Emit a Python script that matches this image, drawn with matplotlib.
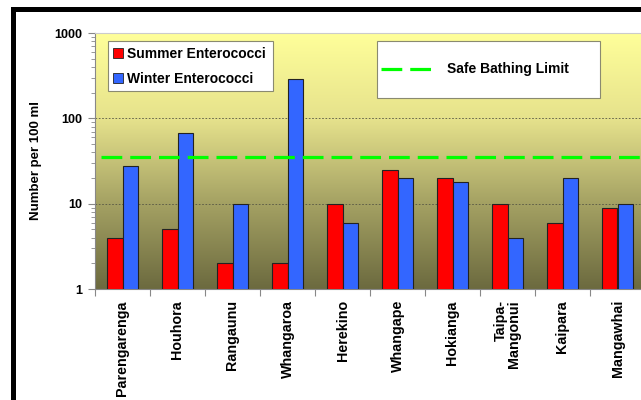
import numpy as np
import matplotlib
matplotlib.use("Agg")
import matplotlib.pyplot as plt
from matplotlib.colors import LinearSegmentedColormap
from matplotlib.patches import Rectangle, Patch
from matplotlib.lines import Line2D
import matplotlib.ticker as ticker

plt.rcParams['font.family'] = ['Liberation Sans', 'DejaVu Sans']
plt.rcParams['font.weight'] = 'bold'
plt.rcParams['axes.labelweight'] = 'bold'

sites = ["Parengarenga", "Houhora", "Rangaunu", "Whangaroa", "Herekino",
         "Whangape", "Hokianga", "Taipa-\nMangonui", "Kaipara", "Mangawhai"]
summer = [4, 5, 2, 2, 10, 25, 20, 10, 6, 9]
winter = [28, 68, 10, 290, 6, 20, 18, 4, 20, 10]
safe_limit = 35

W, H = 641, 400
fig = plt.figure(figsize=(W / 100, H / 100), dpi=100)

def px(x0, y0, x1, y1):
    # pixel box (top-left origin) -> figure fraction rect
    return [x0 / W, 1 - y1 / H, (x1 - x0) / W, (y1 - y0) / H]

ax = fig.add_axes(px(95, 33, 645, 289))

# gradient background
cmap = LinearSegmentedColormap.from_list("bg", ["#FFFF9A", "#E6E28C", "#A4A163", "#6C6A3F"])
grad = np.linspace(0, 1, 256).reshape(-1, 1)
ax.imshow(grad, cmap=cmap, aspect="auto", extent=[0, 1, 0, 1],
          transform=ax.transAxes, zorder=0)

x = np.arange(len(sites))
bw = 0.28
ax.bar(x - bw / 2, summer, width=bw, color="#FF0000", edgecolor="#222222",
       linewidth=0.8, zorder=3, label="Summer Enterococci")
ax.bar(x + bw / 2, winter, width=bw, color="#3366FF", edgecolor="#222222",
       linewidth=0.8, zorder=3, label="Winter Enterococci")

ax.set_yscale("log")
ax.set_ylim(1, 1000)
ax.set_xlim(-0.5, len(sites) - 0.5)

dash = (0, (6.5, 2.5))
ax.axhline(safe_limit, xmin=0.01, color="#00FF00", lw=2.3,
           linestyle=dash, zorder=4)

for v in [10, 100]:
    ax.axhline(v, color="#555544", lw=0.6, linestyle=(0, (2, 2)), zorder=1)

ax.yaxis.set_major_locator(ticker.FixedLocator([1, 10, 100, 1000]))
ax.yaxis.set_major_formatter(ticker.FuncFormatter(lambda v, p: f"{int(v)}"))
ax.yaxis.set_minor_locator(ticker.LogLocator(base=10, subs=np.arange(2, 10)))
ax.yaxis.set_minor_formatter(ticker.NullFormatter())
ax.tick_params(axis="y", which="major", length=5, width=0.8, color="#888888",
               labelsize=9, pad=4)
ax.tick_params(axis="y", which="minor", length=3, width=0.6, color="#888888")

ax.set_xticks(x)
ax.set_xticklabels(sites, rotation=90, fontsize=10.3, va="top", ha="center",
                   multialignment="right", linespacing=1.0)
ax.set_xticks(np.arange(len(sites) + 1) - 0.5, minor=True)
ax.tick_params(axis="x", which="major", length=0, pad=8)
ax.tick_params(axis="x", which="minor", length=5, width=0.8, color="#888888")

for s in ["top", "right"]:
    ax.spines[s].set_color("#cccccc")
    ax.spines[s].set_linewidth(0.8)
for s in ["left", "bottom"]:
    ax.spines[s].set_color("#888888")
    ax.spines[s].set_linewidth(0.8)

ax.set_ylabel("Number per 100 ml", fontsize=9.5, fontweight="bold", labelpad=9)

# legend boxes
fig.add_artist(Rectangle((108 / W, 1 - 91 / H), 165 / W, 50 / H,
                         transform=fig.transFigure, facecolor="white",
                         edgecolor="#8a8a70", lw=0.8, zorder=5))
fig.add_artist(Rectangle((377 / W, 1 - 98 / H), 223 / W, 57 / H,
                         transform=fig.transFigure, facecolor="white",
                         edgecolor="#8a8a70", lw=0.8, zorder=5))

handles = [Patch(facecolor="#FF0000", edgecolor="#222222", lw=0.6),
           Patch(facecolor="#3366FF", edgecolor="#222222", lw=0.6)]
leg1 = fig.legend(handles, ["Summer Enterococci", "Winter Enterococci"],
                  loc="upper left", bbox_to_anchor=(110 / W, 1 - 44 / H),
                  frameon=False, fontsize=10, handlelength=0.7, handleheight=0.7,
                  handletextpad=0.35, labelspacing=0.8, borderpad=0.2,
                  borderaxespad=0)
leg1.set_zorder(6)

h2 = [Line2D([0], [0], color="#00FF00", lw=2.3, linestyle=dash)]
leg2 = fig.legend(h2, ["Safe Bathing Limit"], loc="center left",
                  bbox_to_anchor=(380 / W, 1 - 69.5 / H), frameon=False,
                  fontsize=10, handlelength=3.6, handletextpad=1.1,
                  borderpad=0.1, borderaxespad=0)
leg2.set_zorder(6)

# outer black frame (left and top)
fig.add_artist(Line2D([12.5 / W, 12.5 / W], [0, 1 - 8.5 / H], color="black",
                      lw=3.6, transform=fig.transFigure, solid_capstyle="projecting"))
fig.add_artist(Line2D([12.5 / W, 1.01], [1 - 8.5 / H, 1 - 8.5 / H], color="black",
                      lw=3.6, transform=fig.transFigure, solid_capstyle="projecting"))

fig.savefig("out.png", dpi=100)
